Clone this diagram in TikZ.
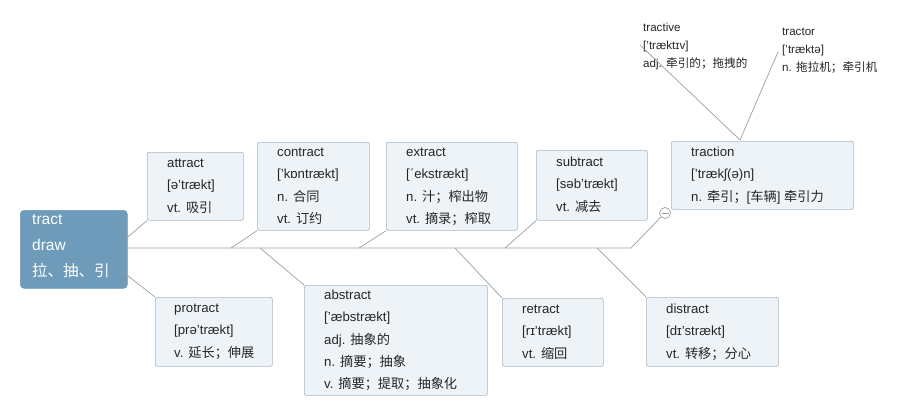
\documentclass[tikz,border=0pt]{standalone}
\usepackage{fontspec}
\setmainfont{Liberation Sans}
\newfontfamily\cjk{Noto Sans CJK SC}
\newcommand{\zh}[1]{{\cjk #1}}
\definecolor{boxfill}{HTML}{EEF3F8}
\definecolor{boxline}{HTML}{A9B8C6}
\definecolor{rootfill}{HTML}{6E9BBA}
\definecolor{conn}{HTML}{9A9FA4}
\begin{document}
\begin{tikzpicture}[x=1pt,y=-1pt,
  wbox/.style={draw=boxline,fill=boxfill,rounded corners=2pt,line width=0.7pt,anchor=north west,inner sep=0},
  wtxt/.style={anchor=north west,align=left,inner sep=0,font=\fontsize{13.2}{22.2}\selectfont,text=black!85},
  stxt/.style={anchor=north west,align=left,inner sep=0,font=\fontsize{11.6}{18}\selectfont,text=black!85},
  link/.style={draw=conn,line width=0.7pt}]
\useasboundingbox (0,0) rectangle (907,415);
\fill[white] (0,0) rectangle (907,415);
% boxes
\node[wbox,fill=rootfill,draw=rootfill,rounded corners=4pt,minimum width=107pt,minimum height=78pt] (root) at (20,210) {};
\node[anchor=north west,align=left,inner sep=0,font=\fontsize{15.5}{26}\selectfont,text=white] (roott) at (32,214) {tract\\draw\\\zh{拉、抽、引}};
\node[wbox,minimum width=96pt,minimum height=68pt] (attract) at (147,152) {};
\node[wtxt] (attractt) at (167,159) {attract\\{[}ə'trækt{]}\\vt. \zh{吸引}};
\node[wbox,minimum width=112pt,minimum height=88pt] (contract) at (257,142) {};
\node[wtxt] (contractt) at (277,148) {contract\\{[}'kɒntrækt{]}\\n. \zh{合同}\\vt. \zh{订约}};
\node[wbox,minimum width=131pt,minimum height=88pt] (extract) at (386,142) {};
\node[wtxt] (extractt) at (406,148) {extract\\{[}ˊekstrækt{]}\\n. \zh{汁；榨出物}\\vt. \zh{摘录；榨取}};
\node[wbox,minimum width=111pt,minimum height=70pt] (subtract) at (536,150) {};
\node[wtxt] (subtractt) at (556,157) {subtract\\{[}səb'trækt{]}\\vt. \zh{减去}};
\node[wbox,minimum width=182pt,minimum height=68pt] (traction) at (671,141) {};
\node[wtxt] (tractiont) at (691,147) {traction\\{[}'trækʃ(ə)n{]}\\n. \zh{牵引；}{[}\zh{车辆}{]} \zh{牵引力}};
\node[wbox,minimum width=117pt,minimum height=69pt] (protract) at (155,297) {};
\node[wtxt] (protractt) at (174,304) {protract\\{[}prə'trækt{]}\\v. \zh{延长；伸展}};
\node[wbox,minimum width=183pt,minimum height=110pt] (abstract) at (304,285) {};
\node[wtxt] (abstractt) at (324,290) {abstract\\{[}'æbstrækt{]}\\adj. \zh{抽象的}\\n. \zh{摘要；抽象}\\v. \zh{摘要；提取；抽象化}};
\node[wbox,minimum width=101pt,minimum height=68pt] (retract) at (502,298) {};
\node[wtxt] (retractt) at (522,305) {retract\\{[}rɪ'trækt{]}\\vt. \zh{缩回}};
\node[wbox,minimum width=132pt,minimum height=69pt] (distract) at (646,297) {};
\node[wtxt] (distractt) at (666,304) {distract\\{[}dɪ'strækt{]}\\vt. \zh{转移；分心}};
\node[stxt] (tractive) at (643,23) {tractive\\{[}'træktɪv{]}\\adj. \zh{牵引的；拖拽的}};
\node[stxt] (tractor) at (782,28) {tractor\\{[}'træktə{]}\\n. \zh{拖拉机；牵引机}};
% connectors
\coordinate (m0) at (127,248);
\coordinate (m1) at (631,248);
\node[circle,draw=conn,fill=white,line width=0.7pt,minimum size=11pt,inner sep=0] (col) at (665,213) {};
\draw[link] (m0) -- (m1) -- (col.south west);
\draw[conn,line width=0.7pt] ([xshift=-3.5pt]col.center) -- ([xshift=3.5pt]col.center);
\draw[link] (123,241) -- (attract.south west);
\draw[link] (231,248) -- (contract.south west);
\draw[link] (359,248) -- (extract.south west);
\draw[link] (505,248) -- (subtract.south west);
\draw[link] (123,272) -- (protract.north west);
\draw[link] (260,248) -- (abstract.north west);
\draw[link] (455,248) -- (retract.north west);
\draw[link] (597,248) -- (distract.north west);
\coordinate (tt) at (740,140);
\draw[link] (tt) -- (640,45);
\draw[link] (tt) -- (778,52);
\end{tikzpicture}
\end{document}
